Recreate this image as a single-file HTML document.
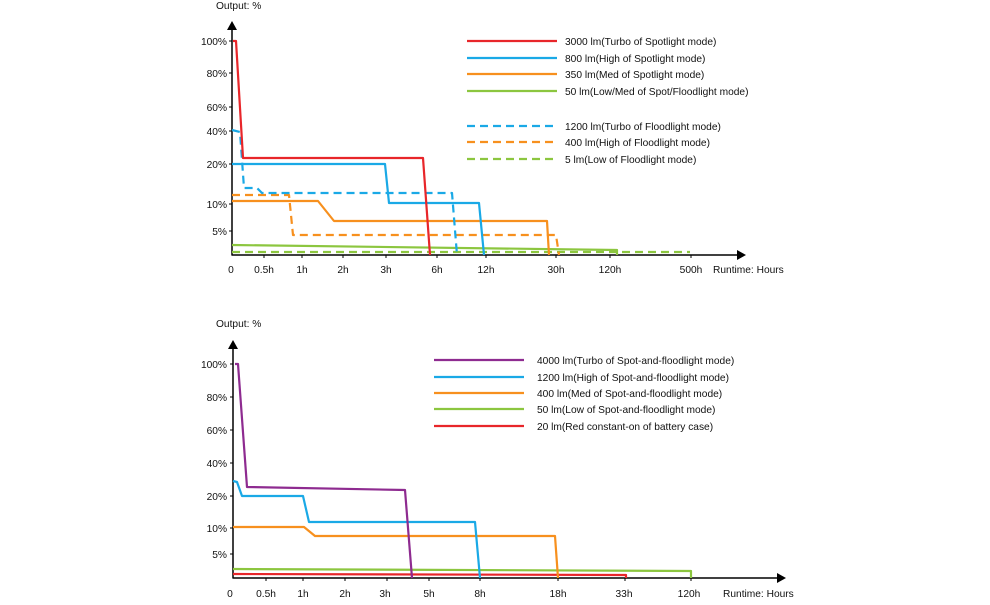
<!DOCTYPE html>
<html><head><meta charset="utf-8"><style>
body{margin:0;background:#fff;width:990px;height:600px;overflow:hidden}
svg text{font-family:"Liberation Sans",sans-serif;font-size:10.2px;fill:#111}
</style></head><body>
<svg width="990" height="600" xmlns="http://www.w3.org/2000/svg">
<g fill="none" stroke-width="2.2" stroke-linejoin="round">
<path d="M232 28 V255 H738" stroke="#000" stroke-width="1.5"/>
<polygon points="232,21 227,30 237,30" fill="#000" stroke="none"/>
<polygon points="746,255 737,250 737,260" fill="#000" stroke="none"/>
<g stroke="#000" stroke-width="1">
<path d="M229 41h3M229 73h3M229 107h3M229 131h3M229 164h3M229 204h3M229 231h3"/>
<path d="M264 255v3M302 255v3M343 255v3M386 255v3M437 255v3M486 255v3M556 255v3M610 255v3M691 255v3"/>
</g>
<path d="M232 245 L617 250 V255" stroke="#8cc63f"/>
<path d="M232 252 H690" stroke="#8cc63f" stroke-dasharray="8,5"/>
<path d="M232 195 H289 L293 235 H556 L559 255" stroke="#f7901e" stroke-dasharray="8,5"/>
<path d="M232 201 H318 L334 221 H547 L549 255" stroke="#f7901e"/>
<path d="M232 130 L240 132 L244 188 H257 L262 193 H452 L457 255" stroke="#1aa9e6" stroke-dasharray="8,5"/>
<path d="M232 164 H385 L389 203 H479 L484 255" stroke="#1aa9e6"/>
<path d="M233 41 H236 L243 158 H423 L430 255" stroke="#e8262a"/>
<path d="M467 41H557" stroke="#e8262a"/>
<path d="M467 58H557" stroke="#1aa9e6"/>
<path d="M467 74H557" stroke="#f7901e"/>
<path d="M467 91H557" stroke="#8cc63f"/>
<path d="M467 126H557" stroke="#1aa9e6" stroke-dasharray="8,5"/>
<path d="M467 142H557" stroke="#f7901e" stroke-dasharray="8,5"/>
<path d="M467 159H557" stroke="#8cc63f" stroke-dasharray="8,5"/>

<path d="M233 347 V578 H778" stroke="#000" stroke-width="1.5"/>
<polygon points="233,340 228,349 238,349" fill="#000" stroke="none"/>
<polygon points="786,578 777,573 777,583" fill="#000" stroke="none"/>
<g stroke="#000" stroke-width="1">
<path d="M230 364h3M230 397h3M230 430h3M230 463h3M230 496h3M230 528h3M230 554h3"/>
<path d="M266 578v3M303 578v3M345 578v3M387 578v3M429 578v3M480 578v3M558 578v3M625 578v3M691 578v3"/>
</g>
<path d="M233 569 L691 571 V578" stroke="#8cc63f"/>
<path d="M233 574 L626 575 V578" stroke="#e8262a"/>
<path d="M233 527 H304 L315 536 H555 L558 578" stroke="#f7901e"/>
<path d="M233 481 L237 482 L242 496 H303 L309 522 H475 L480 578" stroke="#1aa9e6"/>
<path d="M235 364 H238 L247 487 L405 490 L412 578" stroke="#8e2b90"/>
<path d="M434 360H524" stroke="#8e2b90"/>
<path d="M434 377H524" stroke="#1aa9e6"/>
<path d="M434 393H524" stroke="#f7901e"/>
<path d="M434 409H524" stroke="#8cc63f"/>
<path d="M434 426H524" stroke="#e8262a"/>
</g>
<text x="216" y="9">Output: %</text>
<g text-anchor="end">
<text x="227" y="45">100%</text><text x="227" y="77">80%</text><text x="227" y="111">60%</text>
<text x="227" y="135">40%</text><text x="227" y="168">20%</text><text x="227" y="208">10%</text><text x="227" y="235">5%</text>
</g>
<g text-anchor="middle">
<text x="231" y="273">0</text><text x="264" y="273">0.5h</text><text x="302" y="273">1h</text><text x="343" y="273">2h</text>
<text x="386" y="273">3h</text><text x="437" y="273">6h</text><text x="486" y="273">12h</text><text x="556" y="273">30h</text>
<text x="610" y="273">120h</text><text x="691" y="273">500h</text>
</g>
<text x="713" y="273">Runtime: Hours</text>
<text x="565" y="45">3000 lm(Turbo of Spotlight mode)</text>
<text x="565" y="62">800 lm(High of Spotlight mode)</text>
<text x="565" y="78">350 lm(Med of Spotlight mode)</text>
<text x="565" y="95">50 lm(Low/Med of Spot/Floodlight mode)</text>
<text x="565" y="130">1200 lm(Turbo of Floodlight mode)</text>
<text x="565" y="146">400 lm(High of Floodlight mode)</text>
<text x="565" y="163">5 lm(Low of Floodlight mode)</text>
<text x="216" y="327">Output: %</text>
<g text-anchor="end">
<text x="227" y="368">100%</text><text x="227" y="401">80%</text><text x="227" y="434">60%</text>
<text x="227" y="467">40%</text><text x="227" y="500">20%</text><text x="227" y="532">10%</text><text x="227" y="558">5%</text>
</g>
<g text-anchor="middle">
<text x="230" y="597">0</text><text x="266" y="597">0.5h</text><text x="303" y="597">1h</text><text x="345" y="597">2h</text>
<text x="385" y="597">3h</text><text x="429" y="597">5h</text><text x="480" y="597">8h</text><text x="558" y="597">18h</text>
<text x="624" y="597">33h</text><text x="689" y="597">120h</text>
</g>
<text x="723" y="597">Runtime: Hours</text>
<text x="537" y="364">4000 lm(Turbo of Spot-and-floodlight mode)</text>
<text x="537" y="381">1200 lm(High of Spot-and-floodlight mode)</text>
<text x="537" y="397">400 lm(Med of Spot-and-floodlight mode)</text>
<text x="537" y="413">50 lm(Low of Spot-and-floodlight mode)</text>
<text x="537" y="430">20 lm(Red constant-on of battery case)</text>
</svg>
</body></html>
